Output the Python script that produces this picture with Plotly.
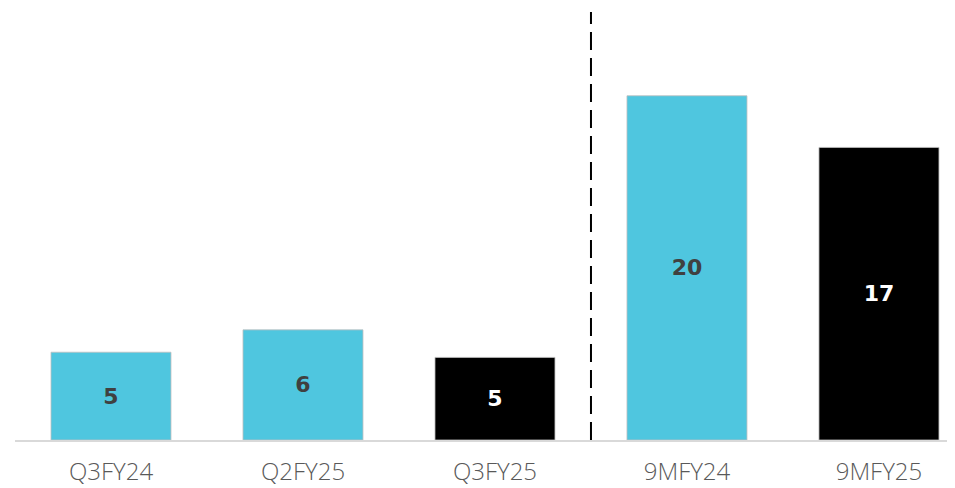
import plotly.graph_objects as go

categories = ["Q3FY24", "Q2FY25", "Q3FY25", "9MFY24", "9MFY25"]
values = [5.1, 6.4, 4.8, 20.0, 17.0]
value_labels = ["5", "6", "5", "20", "17"]
bar_colors = ["#4FC6DF", "#4FC6DF", "#000000", "#4FC6DF", "#000000"]
label_colors = ["#404040", "#404040", "#FFFFFF", "#404040", "#FFFFFF"]

fig = go.Figure()
fig.add_trace(go.Bar(
    x=list(range(len(categories))),
    y=values,
    text=value_labels,
    textposition="inside",
    insidetextanchor="middle",
    textangle=0,
    constraintext="none",
    textfont=dict(family="DejaVu Sans", size=22, color=label_colors, weight="bold"),
    marker=dict(color=bar_colors, line=dict(color="#BFBFBF", width=0.8)),
    width=0.625,
    hoverinfo="skip",
))

fig.add_shape(type="line", xref="x", yref="paper", x0=2.5, x1=2.5, y0=0, y1=0.9907,
              line=dict(color="black", width=2, dash="18px,8px"))

fig.update_layout(
    width=947, height=480,
    margin=dict(l=7, r=0, t=0, b=48, autoexpand=False),
    plot_bgcolor="white", paper_bgcolor="white",
    showlegend=False,
    xaxis=dict(
        range=[-0.5, 4.396],
        tickmode="array",
        tickvals=list(range(len(categories))),
        ticktext=categories,
        tickfont=dict(family="Open Sans", size=24, color="#595959", weight=300),
        showline=True, linecolor="#D9D9D9", linewidth=2,
        showgrid=False, zeroline=False, automargin=False,
        ticks="outside", ticklen=9, tickcolor="rgba(0,0,0,0)",
    ),
    yaxis=dict(range=[0, 25.1], visible=False, showgrid=False, zeroline=False),
)

fig.write_html("out.html")
